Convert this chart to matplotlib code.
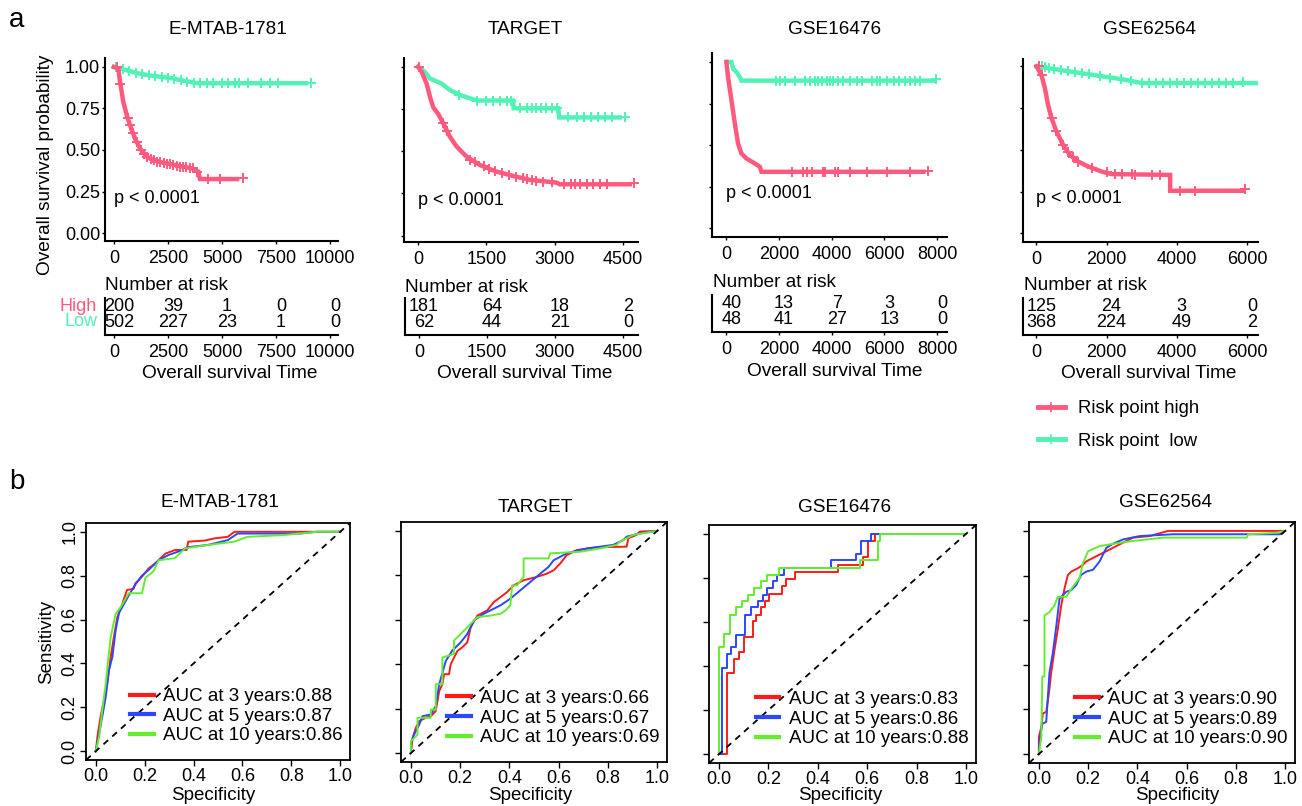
import numpy as np
import matplotlib
matplotlib.use("Agg")
import matplotlib.pyplot as plt
from matplotlib.lines import Line2D
from matplotlib import transforms

plt.rcParams['font.family'] = ['Liberation Sans', 'DejaVu Sans']

W, H = 1302, 806
PINK = '#FF5A7E'
TEAL = '#52F2B6'
ROC_COLORS = ['#FF1A1A', '#2A48FF', '#62EE2E']

datasets = ['E-MTAB-1781', 'TARGET', 'GSE16476', 'GSE62564']

## survival curves (time in days, survival probability)
em_high_t = [0, 200, 280, 430, 590, 740, 970, 1200, 1510, 2050, 2820, 3590, 3900, 3980, 5700]
em_high_s = [1.0, 0.99, 0.91, 0.79, 0.71, 0.65, 0.57, 0.51, 0.46, 0.43, 0.41, 0.39, 0.37, 0.325, 0.325]
em_high_ct = [130, 300, 650, 760, 900, 1050, 1250, 1400, 1550, 1700, 1850, 2000, 2150, 2300, 2450, 2600,
              2750, 2900, 3050, 3200, 3350, 3500, 3650, 3850, 4350, 4900, 5990]
em_high_cs = [1.0, 0.9, 0.69, 0.65, 0.6, 0.55, 0.5, 0.475, 0.455, 0.445, 0.437, 0.43, 0.425, 0.42, 0.415, 0.413,
              0.41, 0.405, 0.4, 0.398, 0.395, 0.39, 0.39, 0.37, 0.325, 0.325, 0.33]
em_low_t = [0, 300, 600, 1100, 1700, 2700, 3300, 3900, 8900]
em_low_s = [1.0, 0.99, 0.98, 0.962, 0.948, 0.932, 0.915, 0.902, 0.902]
em_low_ct = [100, 400, 700, 1000, 1300, 1600, 1900, 2200, 2500, 2800, 3100, 3400, 3700, 4000, 4300, 4600,
             5000, 5300, 5600, 5800, 6200, 6800, 7200, 7600, 9100]
em_low_cs = [1.0, 0.987, 0.976, 0.966, 0.957, 0.95, 0.945, 0.94, 0.935, 0.929, 0.92, 0.912, 0.906, 0.902, 0.902,
             0.902, 0.902, 0.902, 0.902, 0.902, 0.902, 0.902, 0.902, 0.902, 0.905]

tg_high_t = [0, 80, 190, 265, 335, 445, 555, 700, 850, 1070, 1360, 1725, 2160, 2460, 3040, 3110, 4650]
tg_high_s = [1.0, 0.97, 0.90, 0.82, 0.76, 0.72, 0.665, 0.586, 0.527, 0.467, 0.418, 0.379, 0.349, 0.33, 0.314,
             0.304, 0.304]
tg_high_ct = [30, 560, 640, 1150, 1250, 1450, 1550, 1700, 1850, 2000, 2150, 2300, 2400, 2500, 2600, 2750,
              2950, 3200, 3350, 3450, 3550, 3700, 3850, 4000, 4150, 4740]
tg_high_cs = [1.0, 0.665, 0.62, 0.45, 0.435, 0.41, 0.395, 0.38, 0.37, 0.36, 0.35, 0.34, 0.334, 0.329, 0.325,
              0.32, 0.315, 0.304, 0.304, 0.304, 0.304, 0.304, 0.304, 0.304, 0.304, 0.31]
tg_low_t = [0, 150, 265, 520, 700, 920, 1140, 1300, 2090, 2100, 3080, 3100, 4430]
tg_low_s = [1.0, 0.97, 0.93, 0.90, 0.862, 0.833, 0.813, 0.80, 0.80, 0.754, 0.754, 0.70, 0.70]
tg_low_ct = [900, 1300, 1500, 1650, 1800, 1950, 2050, 2250, 2400, 2500, 2600, 2700, 2800, 2950, 3050, 3300,
             3500, 3650, 3800, 3950, 4100, 4250, 4540]
tg_low_cs = [0.835, 0.80, 0.80, 0.80, 0.80, 0.80, 0.80, 0.754, 0.754, 0.754, 0.754, 0.754, 0.754, 0.754, 0.754,
             0.70, 0.70, 0.70, 0.70, 0.70, 0.70, 0.70, 0.70]

gs_high_t = [0, 60, 190, 320, 440, 570, 760, 1080, 1270, 1330, 7480]
gs_high_s = [1.0, 0.91, 0.77, 0.63, 0.51, 0.45, 0.42, 0.39, 0.37, 0.34, 0.34]
gs_high_ct = [2480, 2920, 3050, 3240, 3680, 3750, 4130, 4250, 4700, 5330, 6090, 6980, 7640]
gs_high_cs = [0.34, 0.34, 0.34, 0.34, 0.34, 0.34, 0.34, 0.34, 0.34, 0.34, 0.34, 0.34, 0.345]
gs_low_t = [0, 190, 250, 380, 505, 570, 7870]
gs_low_s = [1.0, 1.0, 0.96, 0.94, 0.91, 0.888, 0.888]
gs_low_ct = [1900, 2030, 2220, 2600, 2980, 3170, 3370, 3490, 3620, 3810, 3940, 4060, 4250, 4440, 4700, 4950,
             5140, 5520, 5710, 5840, 6100, 6350, 6540, 6790, 6980, 7180, 7370, 7980]
gs_low_cs = [0.888, 0.888, 0.888, 0.888, 0.888, 0.888, 0.888, 0.888, 0.888, 0.888, 0.888, 0.888, 0.888, 0.888,
             0.888, 0.888, 0.888, 0.888, 0.888, 0.888, 0.888, 0.888, 0.888, 0.888, 0.888, 0.888, 0.888, 0.895]

gq_high_t = [0, 140, 240, 330, 430, 570, 760, 950, 1190, 1475, 1860, 2140, 3810, 3810, 5860]
gq_high_s = [1.0, 0.95, 0.87, 0.77, 0.69, 0.61, 0.53, 0.47, 0.43, 0.40, 0.37, 0.355, 0.35, 0.255, 0.255]
gq_high_ct = [60, 150, 430, 570, 760, 900, 1050, 1190, 1570, 2000, 2240, 2430, 2710, 2810, 3290, 3520, 4100,
              4520, 5950]
gq_high_cs = [1.0, 0.95, 0.69, 0.61, 0.53, 0.485, 0.455, 0.43, 0.39, 0.365, 0.355, 0.354, 0.353, 0.352, 0.351,
              0.35, 0.255, 0.255, 0.265]
gq_low_t = [0, 620, 1570, 2520, 3000, 6300]
gq_low_s = [1.0, 0.98, 0.95, 0.92, 0.90, 0.90]
gq_low_ct = [150, 250, 350, 500, 700, 900, 1100, 1300, 1500, 1800, 2100, 2400, 2700, 3000, 3200, 3400, 3600,
             3800, 4000, 4200, 4400, 4600, 4800, 5000, 5200, 5400, 5600, 5900]
gq_low_cs = [1.0, 0.995, 0.99, 0.985, 0.978, 0.972, 0.965, 0.958, 0.952, 0.942, 0.932, 0.924, 0.912, 0.90, 0.90,
             0.90, 0.90, 0.90, 0.90, 0.90, 0.90, 0.90, 0.90, 0.90, 0.90, 0.90, 0.90, 0.905]

## number at risk
em_risk_t = [0, 2500, 5000, 7500, 10000]
em_risk_high = [200, 39, 1, 0, 0]
em_risk_low = [502, 227, 23, 1, 0]
tg_risk_t = [0, 1500, 3000, 4500]
tg_risk_high = [181, 64, 18, 2]
tg_risk_low = [62, 44, 21, 0]
gs_risk_t = [0, 2000, 4000, 6000, 8000]
gs_risk_high = [40, 13, 7, 3, 0]
gs_risk_low = [48, 41, 27, 13, 0]
gq_risk_t = [0, 2000, 4000, 6000]
gq_risk_high = [125, 24, 3, 0]
gq_risk_low = [368, 224, 49, 2]

## time-dependent ROC curves
em_r3_x = [0, 0.007, 0.02, 0.034, 0.047, 0.061, 0.074, 0.088, 0.108, 0.128, 0.155, 0.162, 0.189, 0.216, 0.243,
           0.284, 0.324, 0.372, 0.378, 0.446, 0.486, 0.54, 0.567, 1.0]
em_r3_y = [0, 0.068, 0.16, 0.235, 0.31, 0.43, 0.52, 0.61, 0.67, 0.735, 0.74, 0.765, 0.795, 0.833, 0.856, 0.90,
           0.917, 0.917, 0.955, 0.96, 0.97, 0.977, 1.0, 1.0]
em_r5_x = [0, 0.014, 0.027, 0.041, 0.054, 0.068, 0.081, 0.095, 0.115, 0.135, 0.162, 0.189, 0.216, 0.257, 0.297,
           0.338, 0.378, 0.459, 0.54, 0.58, 0.838, 0.905, 1.0]
em_r5_y = [0, 0.083, 0.16, 0.25, 0.37, 0.43, 0.55, 0.63, 0.67, 0.71, 0.76, 0.80, 0.826, 0.87, 0.894, 0.91, 0.93,
           0.94, 0.962, 0.992, 0.992, 1.0, 1.0]
em_r10_x = [0, 0.014, 0.027, 0.041, 0.051, 0.061, 0.081, 0.101, 0.135, 0.189, 0.203, 0.236, 0.257, 0.324, 0.365,
            0.459, 0.567, 0.62, 0.77, 0.905, 1.0]
em_r10_y = [0, 0.068, 0.19, 0.31, 0.42, 0.52, 0.625, 0.655, 0.72, 0.72, 0.79, 0.82, 0.87, 0.88, 0.924, 0.94,
            0.955, 0.977, 0.985, 1.0, 1.0]

tg_r3_x = [0, 0.007, 0.02, 0.034, 0.061, 0.081, 0.101, 0.115, 0.128, 0.135, 0.155, 0.162, 0.189, 0.209, 0.229,
           0.243, 0.27, 0.31, 0.337, 0.364, 0.391, 0.418, 0.458, 0.512, 0.553, 0.58, 0.606, 0.633, 0.674, 0.755,
           0.876, 0.883, 0.916, 0.93, 1.0]
tg_r3_y = [0, 0.068, 0.113, 0.144, 0.159, 0.166, 0.189, 0.279, 0.31, 0.355, 0.355, 0.40, 0.46, 0.476, 0.498,
           0.566, 0.619, 0.642, 0.68, 0.702, 0.725, 0.755, 0.778, 0.793, 0.808, 0.823, 0.853, 0.891, 0.914, 0.926,
           0.929, 0.967, 0.982, 0.997, 1.0]
tg_r5_x = [0, 0.003, 0.013, 0.034, 0.047, 0.081, 0.101, 0.115, 0.142, 0.168, 0.202, 0.229, 0.256, 0.296, 0.337,
           0.364, 0.404, 0.445, 0.485, 0.526, 0.559, 0.58, 0.633, 0.714, 0.822, 0.863, 0.876, 0.93, 1.0]
tg_r5_y = [0, 0.053, 0.083, 0.128, 0.166, 0.174, 0.211, 0.31, 0.415, 0.461, 0.498, 0.536, 0.597, 0.627, 0.65,
           0.665, 0.695, 0.733, 0.77, 0.808, 0.838, 0.868, 0.899, 0.921, 0.937, 0.959, 0.974, 0.989, 1.0]
tg_r10_x = [0, 0, 0.027, 0.027, 0.081, 0.081, 0.101, 0.101, 0.128, 0.128, 0.175, 0.175, 0.202, 0.236, 0.27,
            0.323, 0.364, 0.384, 0.404, 0.411, 0.431, 0.458, 0.458, 0.559, 0.566, 0.687, 0.768, 0.836, 0.849,
            0.903, 1.0]
tg_r10_y = [0, 0.053, 0.083, 0.159, 0.159, 0.196, 0.196, 0.31, 0.31, 0.43, 0.446, 0.506, 0.536, 0.574, 0.612,
            0.619, 0.627, 0.642, 0.665, 0.755, 0.755, 0.793, 0.876, 0.876, 0.899, 0.906, 0.921, 0.937, 0.952,
            0.982, 1.0]

# GSE16476 is a clear staircase: x where the curve jumps, y after the jump
gs_r3_x = [0, 0.034, 0.061, 0.081, 0.102, 0.136, 0.149, 0.169, 0.187, 0.203, 0.255, 0.271, 0.309, 0.481, 0.583,
           0.603, 0.630, 1.0]
gs_r3_y = [0, 0.368, 0.432, 0.465, 0.533, 0.606, 0.633, 0.667, 0.697, 0.727, 0.765, 0.795, 0.826, 0.859, 0.894,
           0.967, 1.0, 1.0]
gs_r5_x = [0, 0.014, 0.034, 0.05, 0.068, 0.106, 0.129, 0.16, 0.179, 0.196, 0.217, 0.234, 0.264, 0.454, 0.556,
           0.576, 0.617, 1.0]
gs_r5_y = [0, 0.391, 0.455, 0.485, 0.541, 0.633, 0.667, 0.697, 0.724, 0.755, 0.788, 0.815, 0.845, 0.879, 0.909,
           0.967, 1.0, 1.0]
gs_r10_x = [0, 0.0, 0.02, 0.043, 0.068, 0.095, 0.119, 0.142, 0.169, 0.194, 0.244, 0.569, 0.644, 0.65, 1.0]
gs_r10_y = [0, 0.485, 0.545, 0.633, 0.667, 0.697, 0.724, 0.755, 0.788, 0.815, 0.845, 0.879, 0.967, 1.0, 1.0]

gq_r3_x = [0, 0, 0.01, 0.016, 0.03, 0.041, 0.05, 0.064, 0.077, 0.091, 0.104, 0.118, 0.132, 0.159, 0.179, 0.193,
           0.22, 0.247, 0.274, 0.30, 0.341, 0.383, 0.45, 0.525, 1.0]
gq_r3_y = [0, 0.076, 0.121, 0.182, 0.189, 0.273, 0.364, 0.47, 0.56, 0.667, 0.742, 0.803, 0.818, 0.833, 0.848,
           0.864, 0.879, 0.894, 0.909, 0.924, 0.947, 0.97, 0.977, 1.0, 1.0]
gq_r5_x = [0, 0.003, 0.014, 0.03, 0.043, 0.057, 0.071, 0.084, 0.111, 0.132, 0.152, 0.172, 0.193, 0.22, 0.247,
           0.274, 0.30, 0.342, 0.41, 0.545, 0.98, 1.0]
gq_r5_y = [0, 0.06, 0.136, 0.144, 0.364, 0.455, 0.576, 0.697, 0.727, 0.735, 0.758, 0.803, 0.818, 0.826, 0.864,
           0.924, 0.942, 0.962, 0.977, 0.985, 0.985, 1.0]
gq_r10_x = [0, 0.01, 0.014, 0.023, 0.023, 0.043, 0.064, 0.077, 0.111, 0.138, 0.165, 0.179, 0.2, 0.247, 0.30,
            0.383, 0.505, 0.844, 0.85, 0.966, 1.0]
gq_r10_y = [0, 0.076, 0.348, 0.348, 0.621, 0.636, 0.667, 0.705, 0.705, 0.75, 0.788, 0.856, 0.909, 0.932, 0.942,
            0.955, 0.97, 0.97, 0.985, 0.992, 1.0]

em_auc = [0.88, 0.87, 0.86]
tg_auc = [0.66, 0.67, 0.69]
gs_auc = [0.83, 0.86, 0.88]
gq_auc = [0.90, 0.89, 0.90]
auc_years = [3, 5, 10]


## layout (pixel boxes: left, top, right, bottom)
km_boxes = [(105, 58, 338, 241), (404, 58, 638, 241.7), (712, 53, 947, 236.7), (1023, 59, 1258, 241.7)]
km_xlims = [(-417, 10370), (-307, 4830), (-549, 8381), (-383, 6314)]
km_ylims = [(-0.048, 1.054), (-0.036, 1.052), (-0.05, 1.054), (-0.05, 1.044)]
table_boxes = [(105, 298, 338, 335), (405, 298, 638, 335), (712, 295, 947, 332), (1023, 298, 1258, 335)]
km_title_xy = [(228, 30), (525, 30), (835, 30), (1149, 30)]
km_xlabel_xy = [(230, 373), (525, 373), (835, 372), (1149, 373)]
nar_xy = [(105, 285), (405, 287), (713, 283), (1024, 286)]

roc_boxes = [(86, 523, 350, 760), (401, 522, 667, 762), (709, 525, 976, 763), (1029, 522, 1295, 763)]
roc_title_xy = [(220, 503), (535, 507), (845, 507), (1165, 503)]
spec_xy = [(213, 796), (530, 796), (840, 796), (1177, 796)]

LABEL_FS = 13.7


def box(l, t, r, b):
    return [l / W, 1 - b / H, (r - l) / W, (b - t) / H]


fig = plt.figure(figsize=(W / 100, H / 100), dpi=100)


def ftext(x, y, s, **kw):
    kw.setdefault('fontsize', LABEL_FS)
    kw.setdefault('ha', 'center')
    kw.setdefault('va', 'center')
    fig.text(x / W, 1 - y / H, s, **kw)


km_sets = [
    (em_low_t, em_low_s, em_low_ct, em_low_cs, em_high_t, em_high_s, em_high_ct, em_high_cs,
     em_risk_t, em_risk_high, em_risk_low),
    (tg_low_t, tg_low_s, tg_low_ct, tg_low_cs, tg_high_t, tg_high_s, tg_high_ct, tg_high_cs,
     tg_risk_t, tg_risk_high, tg_risk_low),
    (gs_low_t, gs_low_s, gs_low_ct, gs_low_cs, gs_high_t, gs_high_s, gs_high_ct, gs_high_cs,
     gs_risk_t, gs_risk_high, gs_risk_low),
    (gq_low_t, gq_low_s, gq_low_ct, gq_low_cs, gq_high_t, gq_high_s, gq_high_ct, gq_high_cs,
     gq_risk_t, gq_risk_high, gq_risk_low),
]

for i, (lt, ls, lct, lcs, ht, hs, hct, hcs, rt, rhigh, rlow) in enumerate(km_sets):
    ax = fig.add_axes(box(*km_boxes[i]))
    ax.plot(lt, ls, color=TEAL, lw=3.2, solid_joinstyle='miter')
    ax.plot(lct, lcs, ls='none', marker='+', ms=7, mew=1.4, color=TEAL, clip_on=False)
    ax.plot(ht, hs, color=PINK, lw=3.2, solid_joinstyle='miter')
    ax.plot(hct, hcs, ls='none', marker='+', ms=7, mew=1.4, color=PINK, clip_on=False)
    ax.set_xlim(km_xlims[i])
    ax.set_ylim(km_ylims[i])
    ax.set_xticks(rt)
    ax.set_xticklabels([str(v) for v in rt])
    ax.set_yticks([0, 0.25, 0.5, 0.75, 1.0])
    if i == 0:
        ax.set_yticklabels(['0.00', '0.25', '0.50', '0.75', '1.00'])
    else:
        ax.set_yticklabels([])
    for s in ['top', 'right']:
        ax.spines[s].set_visible(False)
    for s in ['left', 'bottom']:
        ax.spines[s].set_linewidth(1.5)
    ax.tick_params(axis='x', length=2.5, width=1, pad=4, labelsize=13)
    ax.tick_params(axis='y', length=2.5, width=1, pad=1, labelsize=13)
    ax.text(0, 0.21, 'p < 0.0001', fontsize=13, ha='left', va='center')

    ftext(*km_title_xy[i], datasets[i])

    # risk table
    tb = fig.add_axes(box(*table_boxes[i]))
    tb.set_xlim(km_xlims[i])
    tb.set_ylim(0, 1)
    tb.set_xticks(rt)
    tb.set_xticklabels([str(v) for v in rt])
    tb.set_yticks([])
    for s in ['top', 'right']:
        tb.spines[s].set_visible(False)
    for s in ['left', 'bottom']:
        tb.spines[s].set_linewidth(1.5)
    tb.tick_params(axis='x', length=2.5, width=1, pad=4, labelsize=13)
    tb.patch.set_alpha(0)
    trans = transforms.blended_transform_factory(tb.transData, tb.transAxes)
    trans = transforms.offset_copy(trans, fig=fig, x=5, y=0, units='dots')
    for t, nh, nl in zip(rt, rhigh, rlow):
        tb.text(t, 0.76, str(nh), transform=trans, fontsize=13, ha='center', va='center')
        tb.text(t, 0.35, str(nl), transform=trans, fontsize=13, ha='center', va='center')
    ftext(*nar_xy[i], 'Number at risk', ha='left')
    ftext(*km_xlabel_xy[i], 'Overall survival Time')

ftext(97, 306.7, 'High', ha='right', color=PINK, fontsize=13)
ftext(97, 321.7, 'Low', ha='right', color=TEAL, fontsize=13)
ftext(45, 165, 'Overall survival probability', rotation=90)

handles = [Line2D([], [], color=PINK, lw=3.5, marker='+', ms=7, mew=1.2),
           Line2D([], [], color=TEAL, lw=3.5, marker='+', ms=7, mew=1.2)]
fig.legend(handles, ['Risk point high', 'Risk point  low'], loc='upper left',
           bbox_to_anchor=(1038 / W, 1 - 400 / H), frameon=False, fontsize=13.3,
           handlelength=1.45, handletextpad=0.7, labelspacing=0.85, borderpad=0, borderaxespad=0)

## ROC panels
roc_sets = [
    [(em_r3_x, em_r3_y), (em_r5_x, em_r5_y), (em_r10_x, em_r10_y)],
    [(tg_r3_x, tg_r3_y), (tg_r5_x, tg_r5_y), (tg_r10_x, tg_r10_y)],
    [(gs_r3_x, gs_r3_y), (gs_r5_x, gs_r5_y), (gs_r10_x, gs_r10_y)],
    [(gq_r3_x, gq_r3_y), (gq_r5_x, gq_r5_y), (gq_r10_x, gq_r10_y)],
]
roc_aucs = [em_auc, tg_auc, gs_auc, gq_auc]
roc_steps = ['default', 'default', 'steps-post', 'default']
ticks = [0, 0.2, 0.4, 0.6, 0.8, 1.0]

for i, curves in enumerate(roc_sets):
    ax = fig.add_axes(box(*roc_boxes[i]))
    for (x, y), col, yr, auc in zip(curves, ROC_COLORS, auc_years, roc_aucs[i]):
        ax.plot(x, y, color=col, lw=1.4, drawstyle=roc_steps[i], label=f'AUC at {yr} years:{auc:.2f}')
    ax.axline((0, 0), (1, 1), color='black', lw=1.3, ls=(0, (3.5, 3)))
    ax.set_xlim(-0.04, 1.04)
    ax.set_ylim(-0.04, 1.04)
    ax.set_xticks(ticks)
    ax.set_xticklabels([f'{v:.1f}' for v in ticks])
    ax.set_yticks(ticks)
    if i == 0:
        ax.set_yticklabels([f'{v:.1f}' for v in ticks], rotation=90, va='center')
    else:
        ax.set_yticklabels([])
    ax.tick_params(length=4, width=1, pad=1.5, labelsize=13)
    for sp in ax.spines.values():
        sp.set_linewidth(1.3)
    leg = ax.legend(loc='lower right', bbox_to_anchor=(1.0, 0.035), frameon=False, fontsize=13.5,
                    handlelength=1.25, handletextpad=0.5, labelspacing=0.13, borderpad=0.4, borderaxespad=0)
    for line in leg.get_lines():
        line.set_linewidth(3)
    ftext(*roc_title_xy[i], datasets[i])
    ftext(*spec_xy[i], 'Specificity', fontsize=13.5)

ftext(47, 642, 'Sensitivity', rotation=90, fontsize=13.5)
ftext(17, 20, 'a', fontsize=20)
ftext(17, 482, 'b', fontsize=20)

fig.savefig('out.png', dpi=100)
